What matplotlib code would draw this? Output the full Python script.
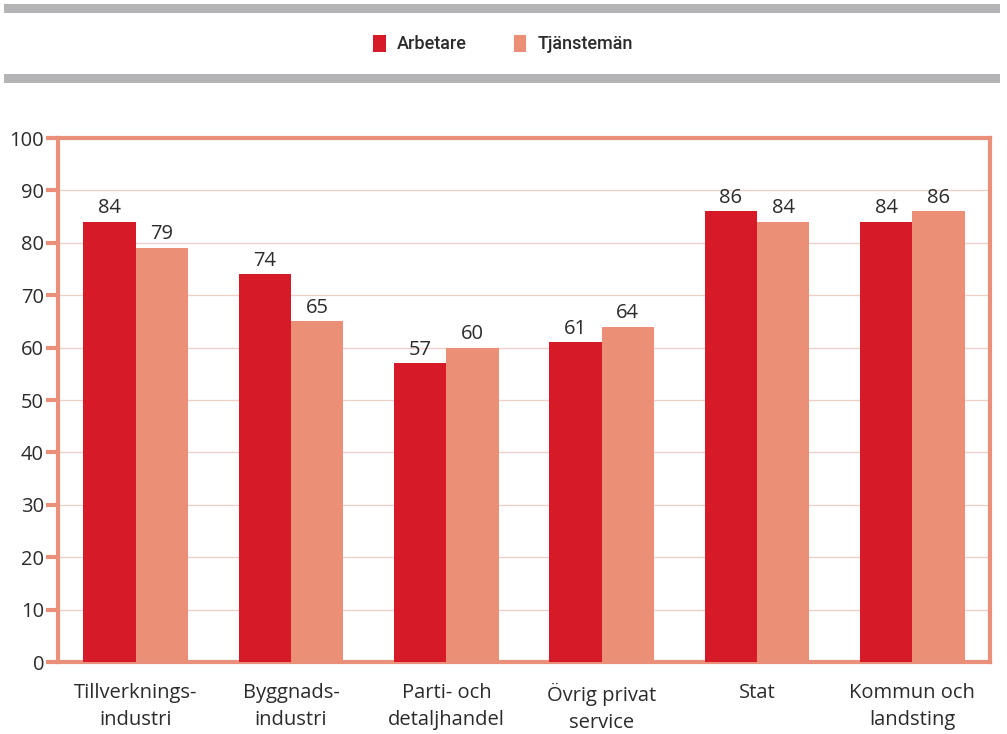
import matplotlib
matplotlib.use("Agg")
import matplotlib.pyplot as plt
from matplotlib.patches import Rectangle
from matplotlib.font_manager import FontProperties
import numpy as np

categories = ["Tillverknings-\nindustri", "Byggnads-\nindustri", "Parti- och\ndetaljhandel",
              "Övrig privat\nservice", "Stat", "Kommun och\nlandsting"]
arbetare = [84, 74, 57, 61, 86, 84]
tjansteman = [79, 65, 60, 64, 84, 86]
series_names = ["Arbetare", "Tjänstemän"]
yticks = list(range(0, 101, 10))

RED = "#D71A28"
SALMON = "#EB8F77"
FRAME = "#E98F7A"
GRID = "#F2CFC4"
GRAY = "#B4B4B6"
TEXT = "#2B2B2B"

plt.rcParams['font.family'] = ['Open Sans', 'DejaVu Sans']

W, H = 1007, 734
fig = plt.figure(figsize=(W / 100, H / 100), dpi=100)

# gray bands
for y0, y1 in [(4, 13), (74, 83)]:
    fig.add_artist(Rectangle((4 / W, 1 - y1 / H), (1000 - 4) / W, (y1 - y0) / H,
                             transform=fig.transFigure, color=GRAY, lw=0))

ax = fig.add_axes([58 / W, 1 - 662 / H, (990 - 58) / W, (662 - 138) / H])

x = np.arange(len(categories))
bw = 0.337
b1 = ax.bar(x - bw / 2, arbetare, bw, color=RED, zorder=3, label=series_names[0])
b2 = ax.bar(x + bw / 2, tjansteman, bw, color=SALMON, zorder=3, label=series_names[1])

for bars, vals in [(b1, arbetare), (b2, tjansteman)]:
    for r, v in zip(bars, vals):
        ax.text(r.get_x() + r.get_width() / 2, v + 0.7, str(v), ha='center', va='bottom',
                fontsize=14.5, color=TEXT)

ax.set_xlim(-0.5, len(categories) - 0.5)
ax.set_ylim(0, 100)
ax.set_yticks(yticks)
ax.set_yticklabels([str(t) for t in yticks], fontsize=14.5, color=TEXT)
ax.set_xticks(x)
ax.set_xticklabels(categories, fontsize=14.5, color=TEXT, linespacing=1.45)
ax.tick_params(axis='x', length=0, pad=15)
ax.tick_params(axis='y', length=9, width=3, color=FRAME, pad=1, direction='out')
ax.grid(axis='y', color=GRID, lw=0.9, zorder=0)
for s in ax.spines.values():
    s.set_color(FRAME)
    s.set_linewidth(3)

legprop = FontProperties(family=['Roboto', 'DejaVu Sans'], weight='medium', size=13)
leg = fig.legend(handles=[b1, b2], labels=series_names, loc='center',
                 bbox_to_anchor=(503 / W, 1 - 44 / H), ncol=2, frameon=False,
                 handlelength=0.7, handleheight=1.1, handletextpad=0.6, columnspacing=2.6,
                 prop=legprop)
for t in leg.get_texts():
    t.set_color(TEXT)

fig.savefig("out.png", dpi=100)
